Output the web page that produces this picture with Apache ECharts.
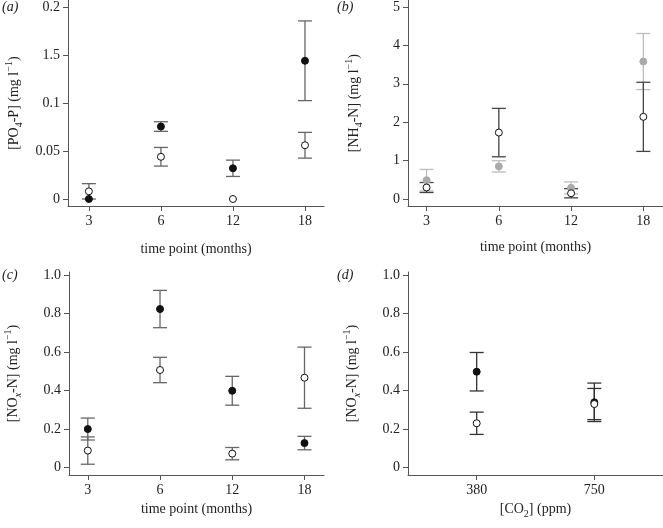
<!DOCTYPE html>
<html><head><meta charset="utf-8">
<script src="https://cdn.jsdelivr.net/npm/echarts@6/dist/echarts.min.js"></script>
<style>html,body{margin:0;padding:0;background:#fff}#c{width:663px;height:528px}</style>
</head><body><div id="c"></div>
<script>
// ---- data ----
const monthLabels = ['3', '6', '12', '18'];
const co2Labels = ['380', '750'];

const po4Ticks = [0, 0.05, 0.1, 0.15, 0.2];
const po4TickLabels = ['0', '0.05', '0.1', '1.5', '0.2'];
const po4Filled = [0, 0.0755, 0.032, 0.144];
const po4FilledErr = [0, 0.005, 0.0085, 0.0415];
const po4Open = [0.008, 0.044, 0, 0.056];
const po4OpenErr = [0.008, 0.0097, 0, 0.0134];

const nh4Ticks = [0, 1, 2, 3, 4, 5];
const nh4TickLabels = ['0', '1', '2', '3', '4', '5'];
const nh4Gray = [0.49, 0.85, 0.29, 3.58];
const nh4GrayErr = [0.28, 0.147, 0.156, 0.73];
const nh4Open = [0.30, 1.73, 0.15, 2.14];
const nh4OpenErr = [0.13, 0.63, 0.12, 0.9];

const noxTicks = [0, 0.2, 0.4, 0.6, 0.8, 1.0];
const noxTickLabels = ['0', '0.2', '0.4', '0.6', '0.8', '1.0'];
const noxFilled = [0.199, 0.823, 0.398, 0.126];
const noxFilledErr = [0.057, 0.097, 0.075, 0.035];
const noxOpen = [0.087, 0.506, 0.071, 0.466];
const noxOpenErr = [0.071, 0.066, 0.032, 0.159];

const co2Filled = [0.497, 0.338];
const co2FilledErr = [0.1, 0.1];
const co2Open = [0.229, 0.329];
const co2OpenErr = [0.058, 0.081];

// ---- styling ----
const FONT = '"Liberation Serif", "DejaVu Serif", serif';
const FS = 14;
const AXC = '#555';
const TXT = '#222';

const rich = {
  n: { fontFamily: FONT, fontSize: FS, color: TXT, lineHeight: 20 },
  sub: { fontFamily: FONT, fontSize: 10, color: TXT, lineHeight: 9, verticalAlign: 'bottom' },
  subi: { fontFamily: FONT, fontSize: 10, fontStyle: 'italic', color: TXT, lineHeight: 9, verticalAlign: 'bottom' },
  sup: { fontFamily: FONT, fontSize: 10, color: TXT, lineHeight: 10, verticalAlign: 'top' }
};

function xAxis(idx, labels, min, max, name, gap) {
  const vals = labels.map((_, i) => i);
  return {
    gridIndex: idx, type: 'value', min: min, max: max,
    name: name, nameLocation: 'middle', nameGap: gap,
    nameTextStyle: { fontFamily: FONT, fontSize: FS, color: TXT, rich: rich },
    axisLine: { show: true, onZero: false, lineStyle: { color: AXC, width: 1 } },
    axisTick: { show: true, length: 5, customValues: vals, lineStyle: { color: AXC } },
    axisLabel: { customValues: vals, margin: 8, fontFamily: FONT, fontSize: FS, color: TXT,
      formatter: v => labels[Math.round(v)] },
    splitLine: { show: false }
  };
}
function yAxis(idx, ticks, tickLabels, min, max, name, gap) {
  return {
    gridIndex: idx, type: 'value', min: min, max: max,
    name: name, nameLocation: 'middle', nameGap: gap, nameRotate: 90,
    nameTextStyle: { fontFamily: FONT, fontSize: FS, color: TXT, rich: rich },
    axisLine: { show: true, onZero: false, lineStyle: { color: AXC, width: 1 } },
    axisTick: { show: true, length: 5, customValues: ticks, lineStyle: { color: AXC } },
    axisLabel: { customValues: ticks, margin: 8, fontFamily: FONT, fontSize: FS, color: TXT,
      formatter: v => {
        let best = 0, bd = Infinity;
        ticks.forEach((t, i) => { const d = Math.abs(t - v); if (d < bd) { bd = d; best = i; } });
        return tickLabels[best];
      } },
    splitLine: { show: false }
  };
}

function errSeries(idx, vals, errs, color) {
  const data = vals.map((v, i) => [i, v - errs[i], v + errs[i]]);
  return {
    type: 'custom', xAxisIndex: idx, yAxisIndex: idx, z: 1,
    data: data,
    renderItem: function (params, api) {
      const x = api.value(0), lo = api.value(1), hi = api.value(2);
      if (hi - lo <= 0) return null;
      const pTop = api.coord([x, hi]);
      const pBot = api.coord([x, lo]);
      const hw = 7;
      const st = { stroke: color, lineWidth: 1.3 };
      return {
        type: 'group',
        children: [
          { type: 'line', shape: { x1: pTop[0], y1: pTop[1], x2: pBot[0], y2: pBot[1] }, style: st },
          { type: 'line', shape: { x1: pTop[0] - hw, y1: pTop[1], x2: pTop[0] + hw, y2: pTop[1] }, style: st },
          { type: 'line', shape: { x1: pBot[0] - hw, y1: pBot[1], x2: pBot[0] + hw, y2: pBot[1] }, style: st }
        ]
      };
    }
  };
}
function pointSeries(idx, vals, fill, stroke, z) {
  return {
    type: 'scatter', xAxisIndex: idx, yAxisIndex: idx, z: z,
    symbol: 'circle', symbolSize: 7,
    data: vals.map((v, i) => [i, v]),
    itemStyle: { color: fill, borderColor: stroke, borderWidth: 1, opacity: 1 },
    emphasis: { disabled: true }, silent: true
  };
}

const panelLabel = (txt, x, y) => ({
  type: 'text', left: x, top: y,
  style: { text: txt, font: 'italic 14px ' + FONT, fill: TXT }
});

const chart = echarts.init(document.getElementById('c'), null, { renderer: 'canvas' });
chart.setOption({
  animation: false,
  backgroundColor: '#fff',
  grid: [
    { left: 68, top: 0, width: 256, height: 206 },
    { left: 408, top: 0, width: 255, height: 206 },
    { left: 69, top: 272, width: 255, height: 203 },
    { left: 408, top: 272, width: 255, height: 203 }
  ],
  xAxis: [
    xAxis(0, monthLabels, -0.29, 3.264, 'time point (months)', 36),
    xAxis(1, monthLabels, -0.257, 3.272, 'time point (months)', 34),
    xAxis(2, monthLabels, -0.26, 3.27, 'time point (months)', 27),
    xAxis(3, co2Labels, -0.584, 1.584, '{n|[CO}{sub|2}{n|] (ppm)}', 24)
  ],
  yAxis: [
    yAxis(0, po4Ticks, po4TickLabels, -0.00728, 0.20697, '{n|[PO}{sub|4}{n|-P] (mg l}{sup|−1}{n|)}', 44),
    yAxis(1, nh4Ticks, nh4TickLabels, -0.182, 5.174, '{n|[NH}{sub|4}{n|-N] (mg l}{sup|−1}{n|)}', 44),
    yAxis(2, noxTicks, noxTickLabels, -0.040, 1.0156, '{n|[NO}{subi|x}{n|-N] (mg l}{sup|−1}{n|)}', 46),
    yAxis(3, noxTicks, noxTickLabels, -0.040, 1.0156, '{n|[NO}{subi|x}{n|-N] (mg l}{sup|−1}{n|)}', 46)
  ],
  graphic: [
    panelLabel('(a)', 2, 0),
    panelLabel('(b)', 337, 0),
    panelLabel('(c)', 2, 268),
    panelLabel('(d)', 337, 268)
  ],
  series: [
    errSeries(0, po4Filled, po4FilledErr, '#666'),
    errSeries(0, po4Open, po4OpenErr, '#666'),
    pointSeries(0, po4Filled, '#111', '#111', 3),
    pointSeries(0, po4Open, '#fff', '#111', 4),

    errSeries(1, nh4Gray, nh4GrayErr, '#bdbdbd'),
    errSeries(1, nh4Open, nh4OpenErr, '#444'),
    pointSeries(1, nh4Gray, '#aaa', '#aaa', 3),
    pointSeries(1, nh4Open, '#fff', '#111', 4),

    errSeries(2, noxFilled, noxFilledErr, '#666'),
    errSeries(2, noxOpen, noxOpenErr, '#666'),
    pointSeries(2, noxFilled, '#111', '#111', 3),
    pointSeries(2, noxOpen, '#fff', '#111', 4),

    errSeries(3, co2Filled, co2FilledErr, '#333'),
    errSeries(3, co2Open, co2OpenErr, '#333'),
    pointSeries(3, co2Filled, '#111', '#111', 3),
    pointSeries(3, co2Open, '#fff', '#111', 4)
  ]
});
</script></body></html>
